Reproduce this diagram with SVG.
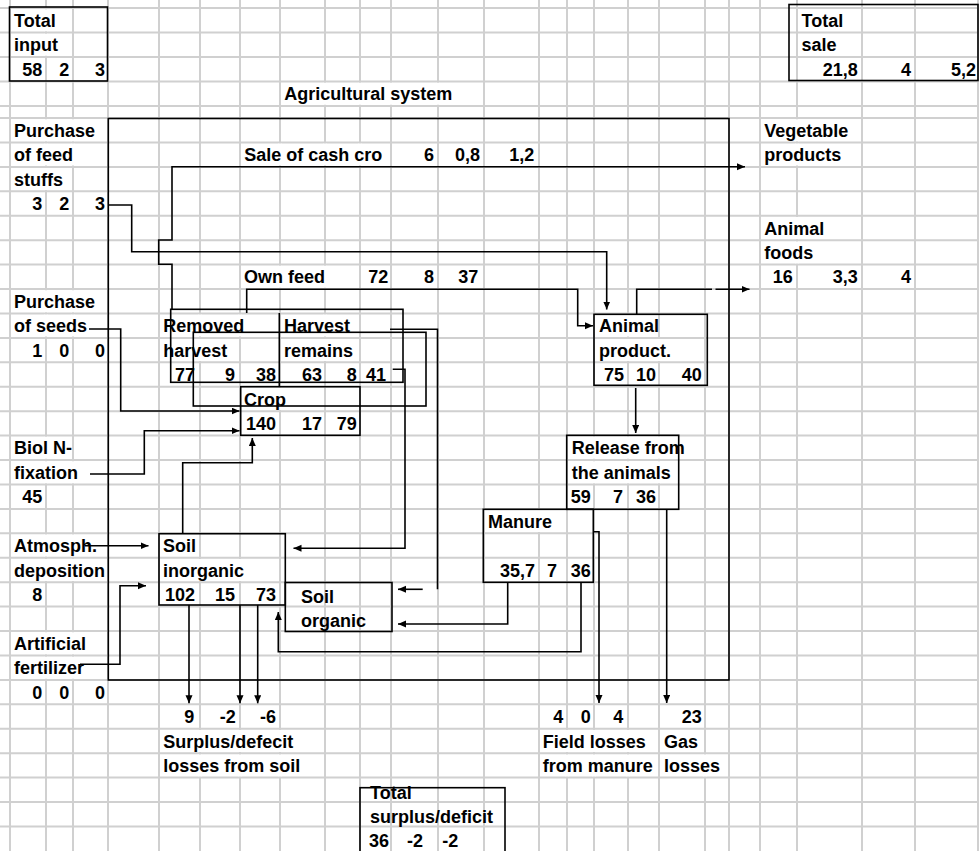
<svg xmlns="http://www.w3.org/2000/svg" width="979" height="851" viewBox="0 0 979 851">
<style>
.g{fill:none;stroke:#d0d0d0;stroke-width:2}
.m{fill:#fff}
.b{fill:none;stroke:#000;stroke-width:1.6}
.c{fill:none;stroke:#000;stroke-width:1.6}
.a{marker-end:url(#ah)}
text{font-family:"Liberation Sans",Arial,sans-serif;font-weight:bold;font-size:18px;fill:#000}
.r{text-anchor:end}
</style>
<defs>
<marker id="ah" markerUnits="userSpaceOnUse" markerWidth="9" markerHeight="8" refX="8" refY="3.5" orient="auto"><path d="M0,0L8,3.5L0,7z" fill="#000"/></marker>
</defs>
<rect width="979" height="851" fill="#fff"/>
<g id="grid">
<path class="g" d="M10,0V851M46,0V851M73,0V851M108,0V851M159,0V851M200,0V851M240,0V851M280,0V851M325,0V851M360,0V851M391,0V851M438,0V851M484,0V851M539,0V851M567,0V851M594,0V851M628,0V851M659,0V851M705,0V851M729,0V851M760,0V851M797,0V851M862,0V851M915,0V851M978,0V851"/>
<path class="g" d="M0,8H979M0,32.5H979M0,57H979M0,81.5H979M0,106H979M0,118H979M0,142.4H979M0,166.9H979M0,191.3H979M0,215.7H979M0,240.2H979M0,264.6H979M0,289H979M0,313.4H979M0,337.9H979M0,362.3H979M0,386.7H979M0,411.2H979M0,435.6H979M0,460H979M0,484.5H979M0,508.9H979M0,533.3H979M0,557.7H979M0,582.2H979M0,606.6H979M0,631H979M0,655.5H979M0,679.9H979M0,704.3H979M0,728.8H979M0,753.2H979M0,777.6H979M0,802.1H979M0,826.5H979"/>
<path class="m" d="M44.4,9.2h3.2v22h-3.2zM44.4,33.7h3.2v22h-3.2zM323.4,82.7h3.2v22h-3.2zM358.4,82.7h3.2v22h-3.2zM389.4,82.7h3.2v22h-3.2zM436.4,82.7h3.2v22h-3.2zM44.4,119.2h3.2v22h-3.2zM71.4,119.2h3.2v22h-3.2zM795.4,119.2h3.2v22h-3.2zM44.4,143.6h3.2v22h-3.2zM71.4,143.6h3.2v22h-3.2zM278.4,143.6h3.2v22h-3.2zM323.4,143.6h3.2v22h-3.2zM358.4,143.6h3.2v22h-3.2zM795.4,143.6h3.2v22h-3.2zM44.4,168.1h3.2v22h-3.2zM795.4,216.9h3.2v22h-3.2zM795.4,241.4h3.2v22h-3.2zM278.4,265.8h3.2v22h-3.2zM323.4,265.8h3.2v22h-3.2zM44.4,290.2h3.2v22h-3.2zM71.4,290.2h3.2v22h-3.2zM44.4,314.6h3.2v22h-3.2zM71.4,314.6h3.2v22h-3.2zM198.4,314.6h3.2v22h-3.2zM238.4,314.6h3.2v22h-3.2zM323.4,314.6h3.2v22h-3.2zM626.4,314.6h3.2v22h-3.2zM198.4,339.1h3.2v22h-3.2zM323.4,339.1h3.2v22h-3.2zM626.4,339.1h3.2v22h-3.2zM657.4,339.1h3.2v22h-3.2zM278.4,387.9h3.2v22h-3.2zM44.4,436.8h3.2v22h-3.2zM592.4,436.8h3.2v22h-3.2zM626.4,436.8h3.2v22h-3.2zM657.4,436.8h3.2v22h-3.2zM44.4,461.2h3.2v22h-3.2zM71.4,461.2h3.2v22h-3.2zM592.4,461.2h3.2v22h-3.2zM626.4,461.2h3.2v22h-3.2zM657.4,461.2h3.2v22h-3.2zM537.4,510.1h3.2v22h-3.2zM44.4,534.5h3.2v22h-3.2zM71.4,534.5h3.2v22h-3.2zM44.4,558.9h3.2v22h-3.2zM71.4,558.9h3.2v22h-3.2zM198.4,558.9h3.2v22h-3.2zM238.4,558.9h3.2v22h-3.2zM44.4,632.2h3.2v22h-3.2zM71.4,632.2h3.2v22h-3.2zM44.4,656.7h3.2v22h-3.2zM71.4,656.7h3.2v22h-3.2zM198.4,730h3.2v22h-3.2zM238.4,730h3.2v22h-3.2zM278.4,730h3.2v22h-3.2zM565.4,730h3.2v22h-3.2zM592.4,730h3.2v22h-3.2zM626.4,730h3.2v22h-3.2zM198.4,754.4h3.2v22h-3.2zM238.4,754.4h3.2v22h-3.2zM278.4,754.4h3.2v22h-3.2zM565.4,754.4h3.2v22h-3.2zM592.4,754.4h3.2v22h-3.2zM626.4,754.4h3.2v22h-3.2zM703.4,754.4h3.2v22h-3.2z"/>
</g>
<g id="system">
<rect class="b" x="108.3" y="118.5" width="620.7" height="561.5"/>
<text x="284.3" y="100.3">Agricultural system</text>
</g>
<g id="total-input">
<rect class="b" x="9.5" y="7" width="98" height="74"/>
<text x="14" y="26.8">Total</text>
<text x="14" y="51.3">input</text>
<text class="r" x="42.3" y="75.8">58</text>
<text class="r" x="69.3" y="75.8">2</text>
<text class="r" x="105" y="75.8">3</text>
</g>
<g id="total-sale">
<rect class="b" x="789" y="4.5" width="189" height="76"/>
<text x="801.5" y="26.8">Total</text>
<text x="801.5" y="51.3">sale</text>
<text class="r" x="857.7" y="75.8">21,8</text>
<text class="r" x="911" y="75.8">4</text>
<text class="r" x="976" y="75.8">5,2</text>
</g>
<g id="purchase-feed">
<text x="14" y="136.7">Purchase</text>
<text x="14" y="161.2">of feed</text>
<text x="14" y="185.6">stuffs</text>
<text class="r" x="42.3" y="210">3</text>
<text class="r" x="69.3" y="210">2</text>
<text class="r" x="105" y="210">3</text>
</g>
<g id="vegetable-products">
<text x="764.3" y="136.7">Vegetable</text>
<text x="764.3" y="161.2">products</text>
</g>
<g id="animal-foods">
<text x="764.3" y="234.5">Animal</text>
<text x="764.3" y="258.9">foods</text>
<text class="r" x="792.7" y="283.3">16</text>
<text class="r" x="857.7" y="283.3">3,3</text>
<text class="r" x="911" y="283.3">4</text>
</g>
<g id="purchase-seeds">
<text x="14" y="307.7">Purchase</text>
<text x="14" y="332.2">of seeds</text>
<text class="r" x="42.3" y="356.6">1</text>
<text class="r" x="69.3" y="356.6">0</text>
<text class="r" x="105" y="356.6">0</text>
</g>
<g id="removed-harvest">
<rect class="b" x="170.7" y="309.3" width="232.3" height="73"/>
<text x="163.3" y="332.2">Removed</text>
<text x="163.3" y="356.6">harvest</text>
<text class="r" x="195" y="381">77</text>
<text class="r" x="235" y="381">9</text>
<text class="r" x="276" y="381">38</text>
</g>
<g id="harvest-remains">
<rect class="b" x="193.3" y="332.3" width="232.7" height="73.7"/>
<text x="284" y="332.2">Harvest</text>
<text x="284" y="356.6">remains</text>
<text class="r" x="322" y="381">63</text>
<text class="r" x="356.7" y="381">8</text>
<text class="r" x="386" y="381">41</text>
</g>
<g id="animal-product">
<rect class="b" x="594" y="314.3" width="113.3" height="71"/>
<text x="599" y="332.2">Animal</text>
<text x="599" y="356.6">product.</text>
<text class="r" x="624" y="381">75</text>
<text class="r" x="656" y="381">10</text>
<text class="r" x="701.7" y="381">40</text>
</g>
<g id="crop">
<rect class="b" x="240.7" y="386.7" width="119.3" height="48.6"/>
<text x="244" y="405.5">Crop</text>
<text class="r" x="276" y="429.9">140</text>
<text class="r" x="322" y="429.9">17</text>
<text class="r" x="356.7" y="429.9">79</text>
</g>
<g id="biol-n-fixation">
<text x="14" y="454.3">Biol N-</text>
<text x="14" y="478.8">fixation</text>
<text class="r" x="42.3" y="503.2">45</text>
</g>
<g id="release">
<rect class="b" x="566.7" y="435.3" width="112" height="74"/>
<text x="571.7" y="454.3">Release from</text>
<text x="571.7" y="478.8">the animals</text>
<text class="r" x="590.7" y="503.2">59</text>
<text class="r" x="623" y="503.2">7</text>
<text class="r" x="656" y="503.2">36</text>
</g>
<g id="manure">
<rect class="b" x="483.3" y="509.3" width="110" height="73"/>
<text x="488" y="527.6">Manure</text>
<text class="r" x="535" y="576.5">35,7</text>
<text class="r" x="557" y="576.5">7</text>
<text class="r" x="590.7" y="576.5">36</text>
</g>
<g id="atmospheric-deposition">
<text x="14" y="552">Atmosph.</text>
<text x="14" y="576.5">deposition</text>
<text class="r" x="42.3" y="600.9">8</text>
</g>
<g id="soil-inorganic">
<rect class="b" x="159" y="533.7" width="126.3" height="71.3"/>
<text x="163" y="552">Soil</text>
<text x="163" y="576.5">inorganic</text>
<text class="r" x="195" y="600.9">102</text>
<text class="r" x="235" y="600.9">15</text>
<text class="r" x="276" y="600.9">73</text>
</g>
<g id="soil-organic">
<rect class="b" x="285.3" y="582.5" width="106.7" height="49"/>
<text x="301" y="603.3">Soil</text>
<text x="301" y="626.7">organic</text>
</g>
<g id="artificial-fertilizer">
<text x="14" y="649.8">Artificial</text>
<text x="14" y="674.2">fertilizer</text>
<text class="r" x="42.3" y="698.6">0</text>
<text class="r" x="69.3" y="698.6">0</text>
<text class="r" x="105" y="698.6">0</text>
</g>
<g id="soil-losses">
<text class="r" x="194.3" y="723.1">9</text>
<text class="r" x="235.7" y="723.1">-2</text>
<text class="r" x="276" y="723.1">-6</text>
<text x="163.3" y="747.5">Surplus/defecit</text>
<text x="163.3" y="771.9">losses from soil</text>
</g>
<g id="field-losses">
<text class="r" x="563.3" y="723.1">4</text>
<text class="r" x="590.7" y="723.1">0</text>
<text class="r" x="623.3" y="723.1">4</text>
<text x="542.7" y="747.5">Field losses</text>
<text x="542.7" y="771.9">from manure</text>
</g>
<g id="gas-losses">
<text class="r" x="701.7" y="723.1">23</text>
<text x="664" y="747.5">Gas</text>
<text x="664" y="771.9">losses</text>
</g>
<g id="total-surplus">
<rect class="b" x="360" y="787.7" width="145" height="70"/>
<text x="370" y="799">Total</text>
<text x="370" y="822.7">surplus/deficit</text>
<text x="369" y="846.7">36</text>
<text x="407" y="846.7">-2</text>
<text x="442.3" y="846.7">-2</text>
</g>
<g id="connectors">
<path class="c a" d="M172,309.3V264.3H158.7V240H172V166.7H745"/>
<path class="c a" d="M108.3,205H131.7V251.7H606.7V309.5"/>
<path class="c a" d="M246.7,313V289.3H577.7V325.7H593"/>
<path class="c" d="M636.7,314.3V289.3H712"/>
<path class="c a" d="M715.5,289.3H749.5"/>
<path class="c a" d="M635.7,388V433"/>
<path class="c a" d="M666.7,509.3V703"/>
<path class="c a" d="M593.3,531.7H599V703"/>
<path class="c a" d="M507.7,582.3V624H398"/>
<path class="c a" d="M581,582.3V651.7H278.3V612"/>
<path class="c" d="M390,329.3H437.5V589.3"/>
<path class="c a" d="M422.7,589.3H398"/>
<path class="c a" d="M392.7,369.3H405V548.3H293.5"/>
<path class="c a" d="M182.7,533.7V462.7H252.3V438"/>
<path class="c a" d="M90,474H144.3V430.7H239.5"/>
<path class="c a" d="M89,329H120.7V411H239.5"/>
<path class="c a" d="M85,545.7H148.5"/>
<path class="c a" d="M80,664.3H120V585.7H146"/>
<path class="c a" d="M189,605V703.3"/>
<path class="c a" d="M240,605V703.3"/>
<path class="c a" d="M257.7,605V703.3"/>
<path class="c" d="M279.3,313V386.7"/>
</g>
<g id="flow-labels">
<text x="244.3" y="161.2">Sale of cash cro</text>
<text class="r" x="434" y="161.2">6</text>
<text class="r" x="480" y="161.2">0,8</text>
<text class="r" x="534.3" y="161.2">1,2</text>
<text x="244" y="283.3">Own feed</text>
<text class="r" x="388.3" y="283.3">72</text>
<text class="r" x="434" y="283.3">8</text>
<text class="r" x="478.3" y="283.3">37</text>
</g>
</svg>
